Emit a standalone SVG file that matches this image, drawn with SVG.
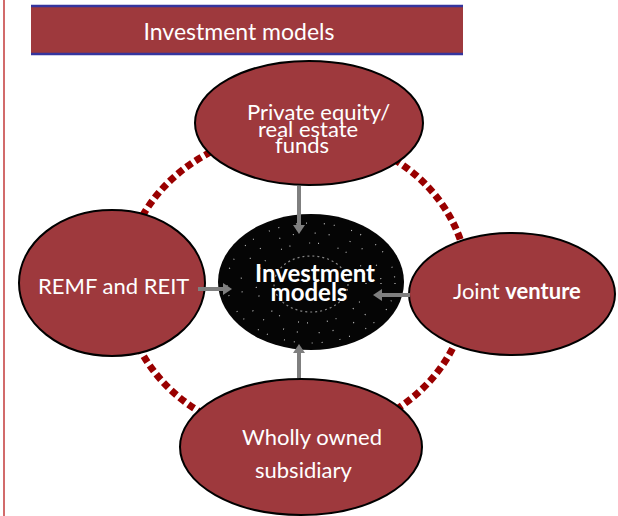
<svg xmlns="http://www.w3.org/2000/svg" width="618" height="516" viewBox="0 0 618 516">
  <style>
    .node { fill: #9E393D; stroke: #000; stroke-width: 2; }
    .label { font-family: Lato, "Open Sans", sans-serif; font-size: 22px; fill: #fff; }
    .bold { font-weight: bold; }
    .hub { font-size: 24px; }
    .link { stroke: #7F7F7F; stroke-width: 4; fill: none; marker-end: url(#head); }
    .speck { fill: none; stroke: #bdbdbd; stroke-width: 1.2; }
  </style>
  <defs>
    <marker id="head" markerUnits="userSpaceOnUse" markerWidth="10" markerHeight="12" refX="1" refY="6" orient="auto">
      <path d="M0,0 L9,6 L0,12 Z" fill="#7F7F7F"/>
    </marker>
  </defs>

  <rect width="618" height="516" fill="#fff"/>

  <!-- page margin rule -->
  <line x1="4" y1="0" x2="4" y2="516" stroke="#D26B6B" stroke-width="2"/>

  <!-- title bar -->
  <g id="title">
    <rect x="31" y="6" width="432" height="48" fill="#9E393D"/>
    <line x1="31" y1="6" x2="463" y2="6" stroke="#35359E" stroke-width="2.5"/>
    <line x1="31" y1="54" x2="463" y2="54" stroke="#35359E" stroke-width="2.5"/>
    <text x="239" y="40" text-anchor="middle" font-family="Lato, 'Open Sans', sans-serif" font-size="23" fill="#fff">Investment models</text>
  </g>

  <!-- dotted ring behind the nodes -->
  <ellipse id="ring" cx="296" cy="285" rx="172" ry="153" fill="none" stroke="#990000" stroke-width="7" stroke-dasharray="7 4"/>

  <!-- centre node -->
  <g id="center">
    <ellipse cx="311" cy="282" rx="93" ry="68" fill="#050505"/>
    <ellipse class="speck" cx="311" cy="283" rx="84" ry="60" stroke-dasharray="1 17 1 9"/>
    <ellipse class="speck" cx="311" cy="283" rx="70" ry="50" stroke-dasharray="1 13 1 21"/>
    <ellipse class="speck" cx="311" cy="283" rx="55" ry="40" stroke-dasharray="1 19 1 8"/>
    <ellipse class="speck" cx="311" cy="284" rx="37" ry="28" stroke-dasharray="2 3" opacity="0.7"/>
    <text class="label bold hub" x="315" y="282" text-anchor="middle">Investment</text>
    <text class="label bold hub" x="309" y="301" text-anchor="middle">models</text>
  </g>

  <!-- outer nodes -->
  <g id="pe-funds">
    <ellipse class="node" cx="309" cy="123" rx="114" ry="62"/>
    <text class="label" x="247" y="120">Private equity/</text>
    <text class="label" x="258" y="137">real estate</text>
    <text class="label" x="275" y="153">funds</text>
  </g>

  <g id="remf-reit">
    <ellipse class="node" cx="112" cy="283" rx="93" ry="73"/>
    <text class="label" x="38" y="294">REMF and REIT</text>
  </g>

  <g id="joint-venture">
    <ellipse class="node" cx="512" cy="294" rx="103" ry="61"/>
    <text class="label" x="453" y="299">Joint <tspan class="bold">venture</tspan></text>
  </g>

  <g id="subsidiary">
    <ellipse class="node" cx="301" cy="447" rx="121" ry="68"/>
    <text class="label" x="242" y="445">Wholly owned</text>
    <text class="label" x="255" y="478">subsidiary</text>
  </g>

  <!-- connectors -->
  <g id="connectors">
    <line class="link" x1="299" y1="186" x2="299" y2="226"/>
    <line class="link" x1="198" y1="289" x2="224" y2="289"/>
    <line class="link" x1="410" y1="295" x2="381" y2="295"/>
    <line class="link" x1="299" y1="378" x2="299" y2="352"/>
  </g>
</svg>
